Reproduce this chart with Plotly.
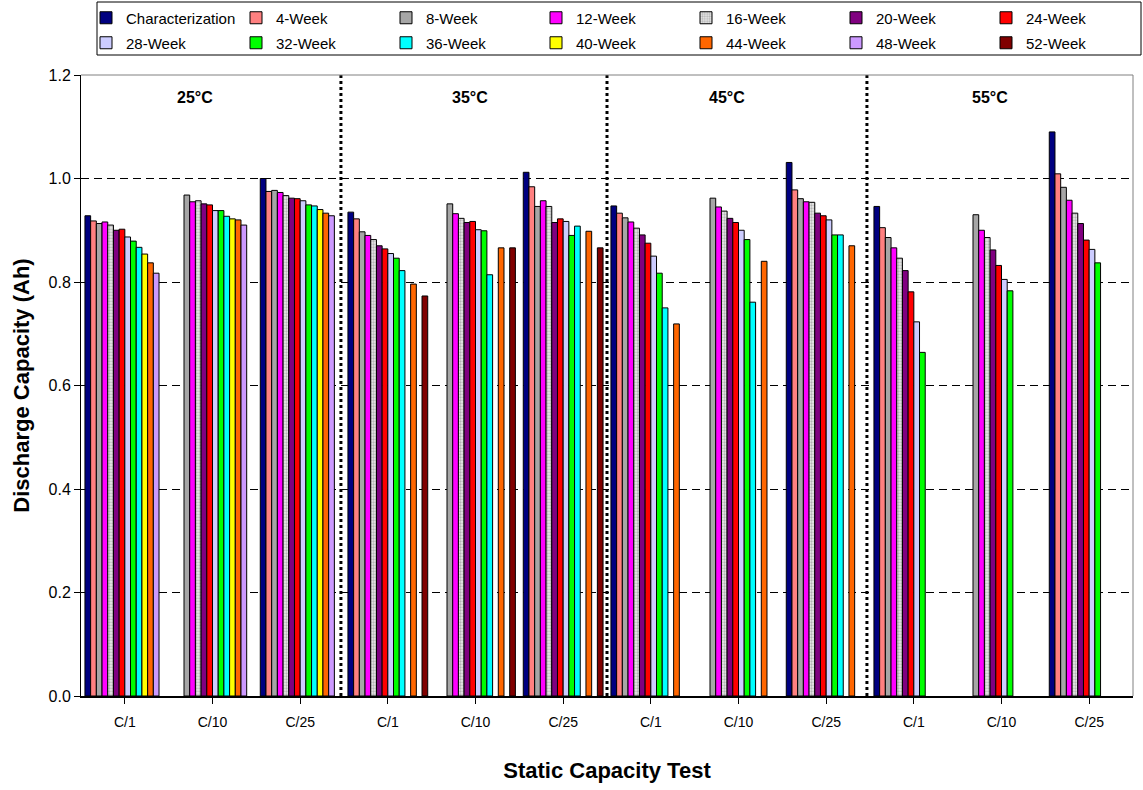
import plotly.graph_objects as go

categories = ["C/1", "C/10", "C/25"] * 4
temps = ["25°C", "35°C", "45°C", "55°C"]
series_names = ["Characterization", "4-Week", "8-Week", "12-Week", "16-Week", "20-Week", "24-Week",
                "28-Week", "32-Week", "36-Week", "40-Week", "44-Week", "48-Week", "52-Week"]
N = None
# values per series across 12 categories (25C C/1, C/10, C/25, 35C ..., 45C ..., 55C ...)
characterization = [0.928, N, 1.000, 0.935, N, 1.012, 0.947, N, 1.031, 0.946, N, 1.090]
week4 = [0.918, N, 0.975, 0.922, N, 0.984, 0.933, N, 0.978, 0.905, N, 1.009]
week8 = [0.913, 0.968, 0.977, 0.897, 0.951, 0.946, 0.924, 0.962, 0.961, 0.886, 0.930, 0.983]
week12 = [0.916, 0.955, 0.973, 0.890, 0.932, 0.957, 0.916, 0.945, 0.955, 0.866, 0.900, 0.958]
week16 = [0.910, 0.957, 0.967, 0.882, 0.923, 0.946, 0.904, 0.937, 0.954, 0.846, 0.886, 0.933]
week20 = [0.900, 0.951, 0.962, 0.870, 0.915, 0.915, 0.891, 0.923, 0.933, 0.822, 0.862, 0.913]
week24 = [0.902, 0.949, 0.961, 0.864, 0.917, 0.922, 0.875, 0.915, 0.928, 0.781, 0.832, 0.881]
week28 = [0.887, 0.938, 0.957, 0.855, 0.901, 0.917, 0.850, 0.900, 0.920, 0.723, 0.805, 0.863]
week32 = [0.879, 0.938, 0.949, 0.846, 0.899, 0.890, 0.817, 0.882, 0.891, 0.664, 0.783, 0.837]
week36 = [0.867, 0.927, 0.947, 0.822, 0.814, 0.908, 0.750, 0.761, 0.891, N, N, N]
week40 = [0.854, 0.922, 0.940, N, N, N, N, N, N, N, N, N]
week44 = [0.837, 0.920, 0.933, 0.796, 0.866, 0.898, 0.719, 0.840, 0.870, N, N, N]
week48 = [0.817, 0.910, 0.928, N, N, N, N, N, N, N, N, N]
week52 = [N, N, N, 0.773, 0.866, 0.866, N, N, N, N, N, N]

values = [characterization, week4, week8, week12, week16, week20, week24,
          week28, week32, week36, week40, week44, week48, week52]
colors = ["#000080", "#FF8080", "#A6A6A6", "#FF00FF", "#DDDDDD", "#800080", "#FF0000",
          "#CCCCFF", "#00FF00", "#00FFFF", "#FFFF00", "#FF6600", "#CC99FF", "#800000"]

x_idx = list(range(len(categories)))

fig = go.Figure()
for i, (name, vals, col) in enumerate(zip(series_names, values, colors)):
    marker = dict(color=col, line=dict(color="black", width=1))
    if name == "16-Week":
        marker["pattern"] = dict(shape=".", fgcolor="#808080", bgcolor="#E8E8E8", size=3, solidity=0.45)
    fig.add_trace(go.Bar(
        x=x_idx, y=vals, name=name, marker=marker,
        legend="legend" if i < 7 else "legend2",
    ))

W, H = 1143, 790
L, R, T, B = 81, 10, 75, 94
pw, ph = W - L - R, H - T - B


def py(ypx):
    return (H - B - ypx) / ph


def px(xpx):
    return (xpx - L) / pw


shapes = []
for xv in [2.465, 5.5, 8.465]:
    shapes.append(dict(type="line", xref="x", yref="y", x0=xv, x1=xv, y0=0, y1=1.2,
                       line=dict(color="black", width=3, dash="dot"), layer="above"))
# top/right plot frame
shapes.append(dict(type="path", xref="paper", yref="paper", path="M0,1 L1,1 L1,0",
                   line=dict(color="#808080", width=1), layer="above"))
# legend frame
shapes.append(dict(type="rect", xref="paper", yref="paper",
                   x0=px(97), x1=px(1141), y0=py(55), y1=py(2),
                   line=dict(color="black", width=1), fillcolor="rgba(0,0,0,0)"))

temp_x = [0.80, 3.94, 6.87, 9.87]
annotations = [dict(x=tx, y=1.157, xref="x", yref="y", text=f"<b>{t}</b>", showarrow=False,
                    font=dict(size=16, color="black"))
               for tx, t in zip(temp_x, temps)]

font_family = "Arial, Liberation Sans, sans-serif"
leg_common = dict(orientation="h", x=px(86), xanchor="left", yanchor="top",
                  entrywidth=105, font=dict(size=15), bgcolor="rgba(0,0,0,0)", borderwidth=0,
                  itemclick=False, itemdoubleclick=False)
fig.update_layout(
    width=W, height=H,
    margin=dict(l=L, r=R, t=T, b=B, autoexpand=False),
    paper_bgcolor="white", plot_bgcolor="white",
    font=dict(family=font_family, color="black", size=14),
    barmode="group", bargap=0.09, bargroupgap=0,
    shapes=shapes, annotations=annotations,
    legend=dict(y=py(1.5), **leg_common),
    legend2=dict(y=py(26.5), **leg_common),
)
fig.update_xaxes(
    range=[-0.5, 11.5], tickmode="array", tickvals=x_idx, ticktext=categories,
    tickson="boundaries", ticks="outside", ticklen=6, tickcolor="black",
    showline=True, linecolor="black", linewidth=2, showgrid=False,
    tickfont=dict(size=14), ticklabelstandoff=6,
    title=dict(text="<b>Static Capacity Test</b>", font=dict(size=22), standoff=34),
)
fig.update_yaxes(
    range=[0, 1.2], tickvals=[0, 0.2, 0.4, 0.6, 0.8, 1.0, 1.2], tickformat=".1f",
    ticks="outside", ticklen=6, tickcolor="black",
    showline=True, linecolor="black", linewidth=1,
    showgrid=True, gridcolor="black", gridwidth=1, griddash="8px,5px", zeroline=False,
    tickfont=dict(size=16),
    title=dict(text="<b>Discharge Capacity (Ah)</b>", font=dict(size=22), standoff=12),
)
fig.write_html("out.html")
